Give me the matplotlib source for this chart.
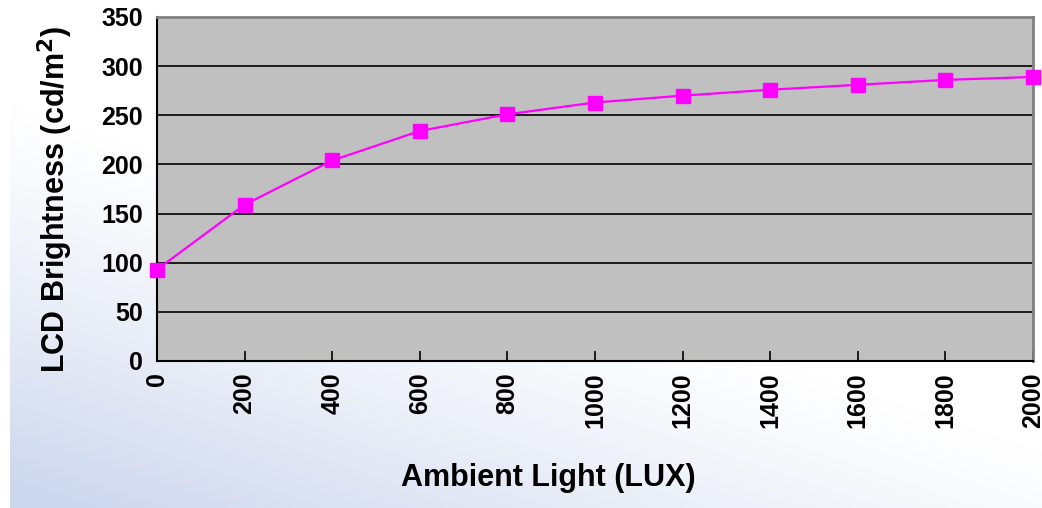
import numpy as np
import matplotlib
matplotlib.use("Agg")
import matplotlib.pyplot as plt

lux = [0, 200, 400, 600, 800, 1000, 1200, 1400, 1600, 1800, 2000]
brightness = [93, 159, 204, 234, 251, 263, 270, 276, 281, 286, 289]
yticks = [0, 50, 100, 150, 200, 250, 300, 350]

plt.rcParams['font.family'] = ['Liberation Sans', 'DejaVu Sans']
W, H = 1042, 508
fig = plt.figure(figsize=(W / 100, H / 100), dpi=100)

# background gradient
bg = fig.add_axes([0, 0, 1, 1])
yy, xx = np.mgrid[0:H, 0:W]
t = np.clip((yy / H) * 1.3 - (xx / W) * 0.9 - 0.25, 0, 1) ** 1.2
top = np.array([1.0, 1.0, 1.0])
bot = np.array([0.80, 0.84, 0.93])
img = top[None, None, :] * (1 - t[..., None]) + bot[None, None, :] * t[..., None]
img[:, :10, :] = 1.0
bg.imshow(img, aspect='auto', extent=[0, 1, 0, 1], origin='upper')
bg.axis('off')

ax = fig.add_axes([157 / W, 1 - 361 / H, (1033 - 157) / W, (361 - 17) / H])
ax.set_facecolor('#C0C0C0')
ax.plot(lux, brightness, color='#FF00FF', lw=1.6, marker='s', ms=10,
        mfc='#FF00FF', mec='#FF00FF', zorder=5, clip_on=False)
ax.set_xlim(0, 2000)
ax.set_ylim(0, 350)
ax.set_yticks(yticks)
ax.set_xticks(lux)
ax.grid(axis='y', color='black', lw=1.2)
ax.set_axisbelow(True)
for s in ['left', 'bottom']:
    ax.spines[s].set_color('black')
    ax.spines[s].set_linewidth(1.5)
for s in ['top', 'right']:
    ax.spines[s].set_color('#808080')
    ax.spines[s].set_linewidth(2)
ax.tick_params(axis='x', direction='in', length=7, width=1.2, color='black',
               labelsize=18, rotation=90, pad=8)
ax.tick_params(axis='y', length=0, labelsize=18, pad=10)
for lab in ax.get_xticklabels() + ax.get_yticklabels():
    lab.set_fontweight('bold')

fig.text(548 / W, 1 - 478 / H, 'Ambient Light (LUX)', fontsize=22,
         fontweight='bold', ha='center', va='center')
fig.text(55 / W, 1 - 200 / H, 'LCD Brightness (cd/m$^{\\mathbf{2}}$)', fontsize=22,
         fontweight='bold', ha='center', va='center', rotation=90)

fig.savefig('out.png', dpi=100)
